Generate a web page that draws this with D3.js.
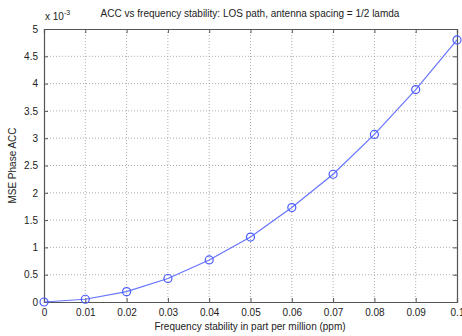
<!DOCTYPE html>
<html>
<head>
<meta charset="utf-8">
<script src="https://cdn.jsdelivr.net/npm/d3@7"></script>
<style>
  body { margin: 0; background: #fff; }
  svg text { font-family: "Liberation Sans", Arial, sans-serif; fill: #222; }
</style>
</head>
<body>
<svg id="chart" width="462" height="336"></svg>
<script>
// frequency stability (ppm) and MSE phase ACC (x 1e-3)
const stability = [0, 0.01, 0.02, 0.03, 0.04, 0.05, 0.06, 0.07, 0.08, 0.09, 0.1];
const mseAcc = [0, 0.05, 0.19, 0.43, 0.77, 1.19, 1.73, 2.34, 3.07, 3.89, 4.8];
const xTicks = [0, 0.01, 0.02, 0.03, 0.04, 0.05, 0.06, 0.07, 0.08, 0.09, 0.1];
const yTicks = [0, 0.5, 1, 1.5, 2, 2.5, 3, 3.5, 4, 4.5, 5];

const margin = {top: 29, right: 5, bottom: 34, left: 44};
const width = 462 - margin.left - margin.right,
      height = 336 - margin.top - margin.bottom;

const svg = d3.select('#chart');
const chart = svg.append('g')
  .attr('transform', 'translate(' + margin.left + ',' + margin.top + ')');

const x = d3.scaleLinear().domain([0, 0.1]).range([0, width]);
const y = d3.scaleLinear().domain([0, 5]).range([height, 0]);

// grid
chart.append('g').selectAll('line').data(xTicks.slice(1, -1)).enter().append('line')
  .attr('x1', d => x(d)).attr('x2', d => x(d)).attr('y1', 0).attr('y2', height)
  .attr('stroke', '#999').attr('stroke-width', 0.8).attr('stroke-dasharray', '1,2');
chart.append('g').selectAll('line').data(yTicks.slice(1, -1)).enter().append('line')
  .attr('y1', d => y(d)).attr('y2', d => y(d)).attr('x1', 0).attr('x2', width)
  .attr('stroke', '#999').attr('stroke-width', 0.8).attr('stroke-dasharray', '1,2');

// axes (ticks point inward, like matlab)
const fmt = d => d === 0 ? '0' : String(d);
const xAxis = d3.axisBottom(x).tickValues(xTicks).tickFormat(fmt).tickSize(-4).tickPadding(7);
const yAxis = d3.axisLeft(y).tickValues(yTicks).tickFormat(fmt).tickSize(-4).tickPadding(6);

const gx = chart.append('g').attr('transform', 'translate(0,' + height + ')').call(xAxis);
const gy = chart.append('g').call(yAxis);
chart.append('g').call(d3.axisTop(x).tickValues(xTicks).tickFormat('').tickSize(-4));
chart.append('g').attr('transform', 'translate(' + width + ',0)')
  .call(d3.axisRight(y).tickValues(yTicks).tickFormat('').tickSize(-4));

chart.selectAll('.domain').attr('stroke', '#555').attr('stroke-width', 1.2);
chart.selectAll('.tick line').attr('stroke', '#555');
chart.selectAll('.tick text').attr('font-size', 10).attr('fill', '#222')
  .attr('font-family', '"Liberation Sans", Arial, sans-serif');

// curve
const line = d3.line().x((d, i) => x(stability[i])).y(d => y(d));
chart.append('path').datum(mseAcc)
  .attr('d', line).attr('fill', 'none').attr('stroke', '#6674ff').attr('stroke-width', 1.2);
chart.selectAll('.pt').data(mseAcc).enter().append('circle')
  .attr('class', 'pt')
  .attr('cx', (d, i) => x(stability[i])).attr('cy', d => y(d)).attr('r', 4)
  .attr('fill', 'none').attr('stroke', '#4a5cff').attr('stroke-width', 1.2);

// texts
svg.append('text').attr('x', 250).attr('y', 17).attr('text-anchor', 'middle')
  .attr('font-size', 10).text('ACC vs frequency stability: LOS path, antenna spacing = 1/2 lamda');
svg.append('text').attr('x', 250).attr('y', 330).attr('text-anchor', 'middle')
  .attr('font-size', 10).text('Frequency stability in part per million (ppm)');
svg.append('text').attr('transform', 'translate(16,' + (margin.top + height / 2) + ') rotate(-90)')
  .attr('text-anchor', 'middle').attr('font-size', 10).text('MSE Phase ACC');
const mult = svg.append('text').attr('x', 45).attr('y', 20).attr('font-size', 10);
mult.append('tspan').text('x 10');
mult.append('tspan').attr('dy', -5).attr('font-size', 7).text('-3');
</script>
</body>
</html>
